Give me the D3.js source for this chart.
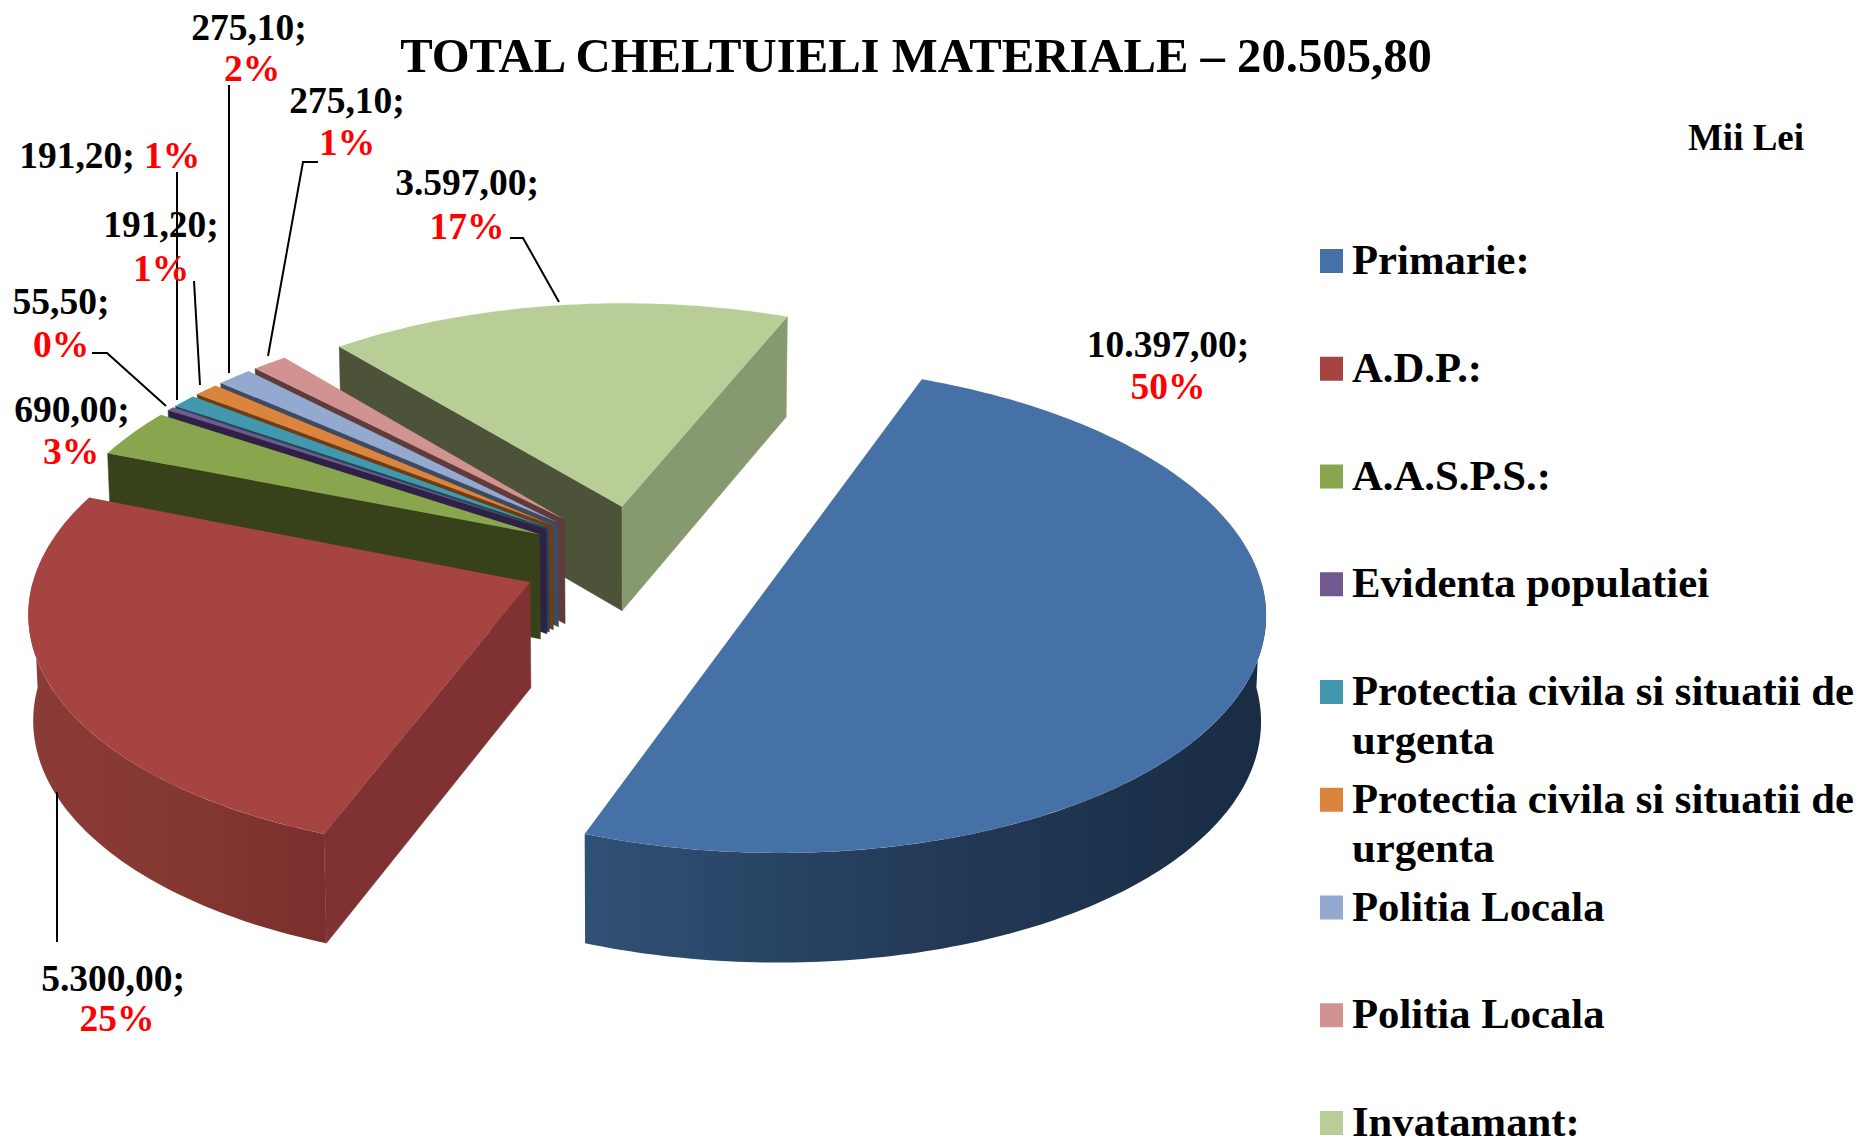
<!DOCTYPE html>
<html>
<head>
<meta charset="utf-8">
<script src="https://cdnjs.cloudflare.com/ajax/libs/d3/7.8.5/d3.min.js"></script>
<style>
	html, body { margin: 0; padding: 0; background: #fff; }
	svg { display: block; }
	text { font-family: "Liberation Serif", serif; font-weight: bold; fill: #000; }
	.pct { fill: #f00; }
	.leader { fill: none; stroke: #000; stroke-width: 2; }
</style>
</head>
<body>
<svg id="chart" width="1858" height="1139"></svg>
<script>
// chart values, same order as the legend
var categories = ["Primarie:", "A.D.P.:", "A.A.S.P.S.:", "Evidenta populatiei",
	"Protectia civila si situatii de urgenta", "Protectia civila si situatii de urgenta",
	"Politia Locala", "Politia Locala", "Invatamant:"];
var values = [10397, 5300, 690, 55.5, 191.2, 191.2, 275.1, 275.1, 3597];
var valueLabels = ["10.397,00;", "5.300,00;", "690,00;", "55,50;", "191,20;", "191,20;", "275,10;", "275,10;", "3.597,00;"];
var percentLabels = ["50%", "25%", "3%", "0%", "1%", "1%", "2%", "1%", "17%"];

var titleText = "TOTAL CHELTUIELI MATERIALE \u2013 20.505,80";
var unitText = "Mii Lei";

// colours
var topColors = ["#4671a6", "#a64442", "#89a54e", "#71588f", "#4198af", "#db843d", "#93a9cf", "#d19392", "#b9cd96"];
var wallColors = ["#27405f", "#7f3231", "#38421a", "#2f2146", "#1f4a58", "#6e3d14", "#3f4a60", "#5f3b3a", "#4d5339"];
var endWallColors = ["#27405f", "#7f3231", "#38421a", "#2f2146", "#1f4a58", "#6e3d14", "#3f4a60", "#5f3b3a", "#87996e"];

// label placement: value line [x, y], percent line [x, y]
var labelPos = [
	[[1168, 357], [1168, 399]],
	[[113, 991], [117, 1031]],
	[[72, 422], [71, 464]],
	[[61, 314], [61, 357]],
	[[161, 237], [161, 281]],
	[[77, 168], [172, 168]],
	[[249, 40], [252, 81]],
	[[347, 113], [347, 155]],
	[[467, 195], [467, 239]]
];
var leaders = [
	[[57, 792], [57, 942]],
	[[92, 353], [107, 353], [166, 406]],
	[[177, 172], [177, 400]],
	[[194, 281], [200, 385]],
	[[229, 85], [229, 373]],
	[[318, 162], [303, 162], [268, 356]],
	[[510, 238], [523, 238], [559, 302]]
];

// 3D pie settings
var center = {x: 639, y: 559};
var rx = 492, ry = 236;
var explode = [0.27, 0.24, 0.23, 0.23, 0.23, 0.23, 0.23, 0.23, 0.23];
var depth = 105;
var persp = 0.108;
var firstAngle = 22 * Math.PI / 180;

var svg = d3.select("#chart");
var defs = svg.append("defs");

var color = d3.scaleOrdinal().domain(d3.range(values.length)).range(topColors);

var pie = d3.pie().sort(null).value(function(d){ return d; })
	.startAngle(firstAngle).endAngle(firstAngle + 2 * Math.PI);
var slices = pie(values);

// angle is clockwise from 12 o'clock, r in 0..1, z 0 for top and 1 for bottom
function project(slice, angle, r, z){
	var mid = (slice.startAngle + slice.endAngle) / 2;
	var X = r * Math.sin(angle) + explode[slice.index] * Math.sin(mid);
	var Y = -r * Math.cos(angle) - explode[slice.index] * Math.cos(mid);
	var s = 1 / (1 - persp * Y);
	return [center.x + rx * X * s * (1 - 0.008 * z),
		center.y + ry * Y * s + z * depth * (1 + 0.04 * Y)];
}

var line = d3.line();

function sectorPoints(slice, a0, a1, z){
	var n = Math.max(2, Math.ceil((a1 - a0) * 60));
	return d3.range(n + 1).map(function(i){
		return project(slice, a0 + (a1 - a0) * i / n, 1, z);
	});
}

function addGradient(id, stops){
	var g = defs.append("linearGradient").attr("id", id)
		.attr("x1", 0).attr("x2", 1).attr("y1", 0).attr("y2", 0);
	stops.forEach(function(s){
		g.append("stop").attr("offset", s[0]).attr("stop-color", s[1]);
	});
}
addGradient("wall0", [[0, "#2f5175"], [0.5, "#233a58"], [1, "#192c44"]]);
addGradient("wall1", [[0, "#8c3c38"], [0.6, "#83362f"], [1, "#7a2f2d"]]);

var order = [8, 7, 6, 5, 4, 3, 2, 1, 0];
var pieG = svg.append("g");

order.forEach(function(idx){
	var s = slices[idx], g = pieG.append("g");
	var a0 = s.startAngle, a1 = s.endAngle;

	function cutWall(a, fill){
		var pts = [project(s, a, 0, 0), project(s, a, 1, 0), project(s, a, 1, 1), project(s, a, 0, 1)];
		g.append("path").attr("d", line(pts) + "Z").attr("fill", fill).attr("stroke", fill).attr("stroke-width", 0.5);
	}
	if(Math.sin(a0) < 0) cutWall(a0, wallColors[idx]);
	if(Math.sin(a1) > 0) cutWall(a1, endWallColors[idx]);

	// curved outside wall, only the part turned to the viewer
	var from = Math.max(a0, Math.PI / 2), to = Math.min(a1, 3 * Math.PI / 2);
	if(to > from){
		var pts = sectorPoints(s, from, to, 0).concat(sectorPoints(s, from, to, 1).reverse());
		g.append("path").attr("d", line(pts) + "Z")
			.attr("fill", idx < 2 ? "url(#wall" + idx + ")" : wallColors[idx]);
	}

	// the half-pie slice shows a straight cut, so it closes without the apex
	var top = sectorPoints(s, a0, a1, 0);
	if(a1 - a0 < 3.1) top.unshift(project(s, a0, 0, 0));
	g.append("path").attr("d", line(top) + "Z").attr("fill", color(idx));
});

// leader lines
svg.append("g").selectAll("path").data(leaders).enter().append("path")
	.attr("class", "leader")
	.attr("d", function(d){ return line(d); });

// data labels
var labelG = svg.append("g").attr("font-size", 37.5);
valueLabels.forEach(function(t, i){
	labelG.append("text").attr("x", labelPos[i][0][0]).attr("y", labelPos[i][0][1])
		.attr("text-anchor", "middle").text(t);
	labelG.append("text").attr("class", "pct").attr("x", labelPos[i][1][0]).attr("y", labelPos[i][1][1])
		.attr("text-anchor", "middle").text(percentLabels[i]);
});

svg.append("text").attr("x", 916).attr("y", 72).attr("text-anchor", "middle")
	.attr("font-size", 48.7).text(titleText);
svg.append("text").attr("x", 1746).attr("y", 150).attr("text-anchor", "middle")
	.attr("font-size", 37).text(unitText);

// legend
var legendY = d3.scalePoint().domain(d3.range(categories.length)).range([261, 1123]);
var wrapAt = "Protectia civila si situatii de";
var legend = svg.append("g").selectAll("g").data(categories).enter().append("g")
	.attr("transform", function(d, i){ return "translate(1320," + legendY(i) + ")"; });
legend.append("rect").attr("x", 0).attr("y", -12).attr("width", 23).attr("height", 24)
	.attr("fill", function(d, i){ return color(i); });
legend.append("text").attr("font-size", 42.7).attr("y", 13).each(function(d){
	var el = d3.select(this);
	if(d.indexOf(wrapAt) === 0){
		el.append("tspan").attr("x", 32).text(wrapAt);
		el.append("tspan").attr("x", 32).attr("dy", 49).text(d.slice(wrapAt.length + 1));
	}
	else{
		el.append("tspan").attr("x", 32).text(d);
	}
});
</script>
</body>
</html>
